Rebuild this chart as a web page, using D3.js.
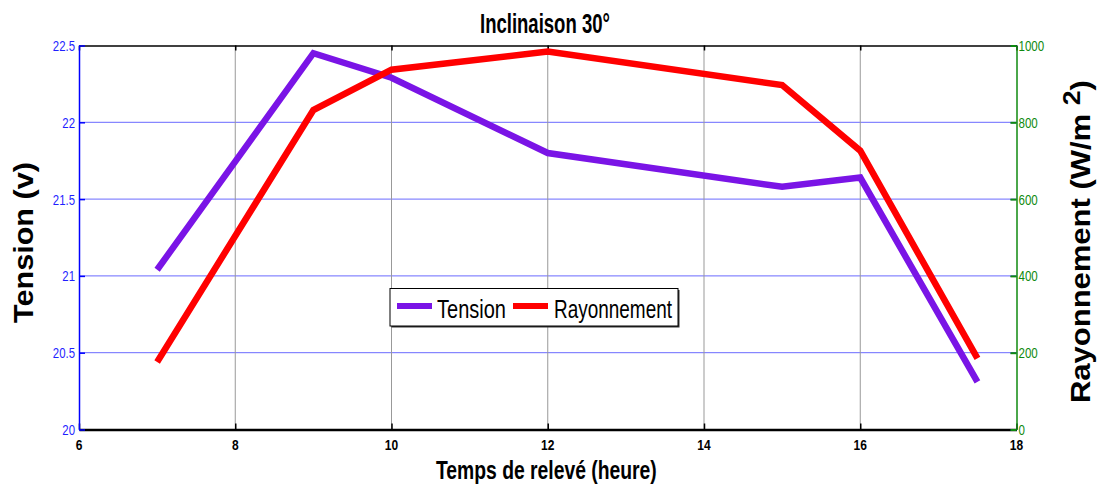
<!DOCTYPE html>
<html>
<head>
<meta charset="utf-8">
<script src="https://cdn.jsdelivr.net/npm/d3@7"></script>
<style>
  html, body { margin: 0; padding: 0; background: #fff; }
  svg { display: block; font-family: "Liberation Sans", Arial, sans-serif; }
</style>
</head>
<body>
<svg id="chart" width="1101" height="486"></svg>
<script>
// Measurement times (hour of day)
const hours = [7, 9, 10, 12, 15, 16, 17.5];
// Panel voltage (V)
const tension = [21.04, 22.45, 22.29, 21.80, 21.58, 21.64, 20.31];
// Solar irradiance (W/m²)
const rayonnement = [176, 832, 937, 984, 897, 726, 185];

// Tick values
const xTicks = [6, 8, 10, 12, 14, 16, 18];
const tensionTicks = [20, 20.5, 21, 21.5, 22, 22.5];
const rayTicks = [0, 200, 400, 600, 800, 1000];

const seriesNames = ["Tension", "Rayonnement"];

const svg = d3.select("#chart");
const plot = { left: 79, right: 1016.5, top: 45.5, bottom: 429.5 };

const colPurple = "#7a14e6";
const colRed = "#ff0000";
const colBlue = "#1f1fff";
const colGreen = "#0f8a0f";

const x = d3.scaleLinear().domain([6, 18]).range([plot.left, plot.right]);
const yL = d3.scaleLinear().domain([20, 22.5]).range([plot.bottom, plot.top]);
const yR = d3.scaleLinear().domain([0, 1000]).range([plot.bottom, plot.top]);

// Text helper: horizontally condensed / fitted text
function label(g, str, opts) {
  const t = g.append("text")
    .text(str)
    .attr("font-size", opts.size)
    .attr("font-weight", opts.bold ? "bold" : "normal")
    .attr("fill", opts.fill || "#000");
  const len = t.node().getComputedTextLength();
  const k = opts.width ? opts.width / len : (opts.k || 1);
  let anchorShift = 0;
  if (opts.anchor === "middle") anchorShift = -len * k / 2;
  else if (opts.anchor === "end") anchorShift = -len * k;
  const rot = opts.rotate ? ` rotate(${opts.rotate})` : "";
  t.attr("transform", `translate(${opts.x},${opts.y})${rot} translate(${anchorShift},0) scale(${k},1)`);
  return t;
}

// Grid
const grid = svg.append("g");
grid.selectAll("line.h").data(tensionTicks.slice(1, -1)).join("line")
  .attr("x1", plot.left).attr("x2", plot.right)
  .attr("y1", d => yL(d)).attr("y2", d => yL(d))
  .attr("stroke", "#6a6aff").attr("stroke-width", 1);
grid.selectAll("line.v").data(xTicks.slice(1, -1)).join("line")
  .attr("y1", plot.top).attr("y2", plot.bottom)
  .attr("x1", d => x(d)).attr("x2", d => x(d))
  .attr("stroke", "#999").attr("stroke-width", 1);

// Axes built with d3 axis generators
const axB = svg.append("g").attr("transform", `translate(0,${plot.bottom})`)
  .call(d3.axisBottom(x).tickValues(xTicks).tickSizeInner(-6).tickSizeOuter(0).tickFormat(""));
axB.select(".domain").attr("stroke", "#000").attr("stroke-width", 2.5);
axB.selectAll(".tick line").attr("stroke", "#000").attr("stroke-width", 1.5);

const axT = svg.append("g").attr("transform", `translate(0,${plot.top})`)
  .call(d3.axisTop(x).tickValues(xTicks).tickSizeInner(-5).tickSizeOuter(0).tickFormat(""));
axT.select(".domain").attr("stroke", "#000").attr("stroke-width", 1.5);
axT.selectAll(".tick line").attr("stroke", "#000").attr("stroke-width", 1.5);

const axL = svg.append("g").attr("transform", `translate(${plot.left},0)`)
  .call(d3.axisLeft(yL).tickValues(tensionTicks).tickSizeInner(-6).tickSizeOuter(0).tickFormat(""));
axL.select(".domain").attr("stroke", "#0000ff").attr("stroke-width", 1.5);
axL.selectAll(".tick line").attr("stroke", "#0000ff").attr("stroke-width", 1.5);

const axLm = svg.append("g").attr("transform", `translate(${plot.right},0)`)
  .call(d3.axisRight(yL).tickValues(tensionTicks).tickSizeInner(-6).tickSizeOuter(0).tickFormat(""));
axLm.select(".domain").remove();
axLm.selectAll(".tick line").attr("stroke", "#0000ff").attr("stroke-width", 1);

const axR = svg.append("g").attr("transform", `translate(${plot.right},0)`)
  .call(d3.axisRight(yR).tickValues(rayTicks).tickSizeInner(-6).tickSizeOuter(0).tickFormat(""));
axR.select(".domain").attr("stroke", colGreen).attr("stroke-width", 1.5);
axR.selectAll(".tick line").attr("stroke", colGreen).attr("stroke-width", 2);

// Tick labels
const tl = svg.append("g");
tensionTicks.forEach(v => label(tl, String(v), { size: 15, fill: colBlue, k: 0.76, anchor: "end", x: plot.left - 4, y: yL(v) + 5.5 }));
rayTicks.forEach(v => label(tl, String(v), { size: 15, fill: colGreen, k: 0.77, anchor: "start", x: plot.right + 2, y: yR(v) + 5.5 }));
xTicks.forEach(v => label(tl, String(v), { size: 15, bold: true, k: 0.8, anchor: "middle", x: x(v), y: 449.5 }));

// Data lines
const lineT = d3.line().x((d, i) => x(hours[i])).y(d => yL(d));
const lineR = d3.line().x((d, i) => x(hours[i])).y(d => yR(d));
svg.append("path").datum(tension).attr("d", lineT)
  .attr("fill", "none").attr("stroke", colPurple).attr("stroke-width", 6.5).attr("stroke-linejoin", "miter");
svg.append("path").datum(rayonnement).attr("d", lineR)
  .attr("fill", "none").attr("stroke", colRed).attr("stroke-width", 6.5).attr("stroke-linejoin", "miter");

// Legend
const lg = svg.append("g");
lg.append("rect").attr("x", 391.5).attr("y", 290).attr("width", 288).attr("height", 37.5).attr("fill", "#333");
lg.append("rect").attr("x", 390).attr("y", 288.5).attr("width", 288).attr("height", 37.5)
  .attr("fill", "#fff").attr("stroke", "#000").attr("stroke-width", 1);
const legendItems = [
  { name: seriesNames[0], color: colPurple, x0: 397, x1: 432, tx: 437, w: 69 },
  { name: seriesNames[1], color: colRed, x0: 513, x1: 548, tx: 554, w: 118 }
];
legendItems.forEach(it => {
  lg.append("line").attr("x1", it.x0).attr("x2", it.x1).attr("y1", 306).attr("y2", 306)
    .attr("stroke", it.color).attr("stroke-width", 6);
  label(lg, it.name, { size: 26, width: it.w, anchor: "start", x: it.tx, y: 317.5 });
});

// Titles
label(svg, "Inclinaison 30°", { size: 27, bold: true, width: 130, anchor: "middle", x: 545, y: 32.5 });
label(svg, "Temps de relevé (heure)", { size: 25, bold: true, width: 221, anchor: "middle", x: 546.5, y: 478.5 });
label(svg, "Tension (v)", { size: 28, bold: true, width: 161, anchor: "middle", x: 33, y: 242.5, rotate: -90 });

// Right axis title with superscript
const rt = svg.append("text").attr("font-size", 28).attr("font-weight", "bold").attr("fill", "#000");
rt.append("tspan").text("Rayonnement (W/m ");
rt.append("tspan").text("2").attr("font-size", 24).attr("dy", -10);
rt.append("tspan").text(")").attr("dy", 10);
const rlen = rt.node().getComputedTextLength();
const rk = 323 / rlen;
rt.attr("transform", `translate(1090,241.5) rotate(-90) translate(${-rlen * rk / 2},0) scale(${rk},1)`);
</script>
</body>
</html>
